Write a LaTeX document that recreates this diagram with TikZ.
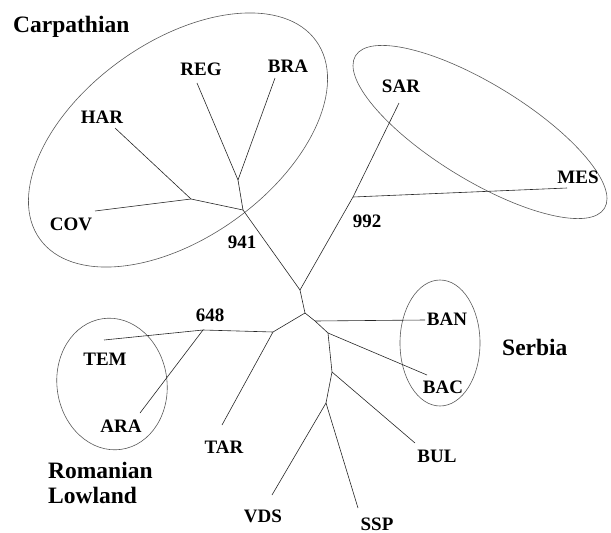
\documentclass[tikz,border=0pt]{standalone}
\usepackage{fontspec}
\setmainfont{Liberation Serif}
\usepackage{tikz}

\begin{document}
\begin{tikzpicture}[x=1pt,y=-1pt,
  branch/.style={line width=0.6pt, black!85},
  rim/.style={line width=0.6pt, black!65},
  taxon/.style={font=\fontsize{19}{19}\selectfont\bfseries, anchor=base, inner sep=0pt},
  region/.style={font=\fontsize{23.5}{23.5}\selectfont\bfseries, anchor=base west, inner sep=0pt}]
\useasboundingbox (0,0) rectangle (611,533);

% inner points of the tree
\coordinate (kink) at (191,199);
\coordinate (rb) at (238,180);
\coordinate (c941) at (243,210);
\coordinate (up) at (300,290);
\coordinate (c992) at (353,197);
\coordinate (ctr) at (305,313);
\coordinate (tj) at (273,332);
\coordinate (c648) at (203,330);
\coordinate (bj) at (315,321);
\coordinate (k1) at (328,333);
\coordinate (k2) at (332,372);
\coordinate (k3) at (326,403);

% leaf ends
\coordinate (har) at (115,128);
\coordinate (cov) at (95,211);
\coordinate (reg) at (197,83);
\coordinate (bra) at (275,78);
\coordinate (sar) at (399,103);
\coordinate (mes) at (567,188);
\coordinate (tem) at (104,340);
\coordinate (ara) at (140,413);
\coordinate (tar) at (222,425);
\coordinate (ban) at (425,320);
\coordinate (bac) at (427,375);
\coordinate (bul) at (415,443);
\coordinate (vds) at (272,495);
\coordinate (ssp) at (358,508);

% regions
\draw[rim, rotate around={35.6:(178,140)}] (178,140) ellipse (170pt and 98pt);
\draw[rim, rotate around={-31.5:(480,132)}] (480,132) ellipse (146pt and 48pt);
\draw[rim, rotate around={8:(112,384)}] (112,384) ellipse (55pt and 66pt);
\draw[rim] (440,343) ellipse (40pt and 63pt);

% branches
\draw[branch] (har) -- (kink);
\draw[branch] (cov) -- (kink) -- (c941);
\draw[branch] (reg) -- (rb);
\draw[branch] (bra) -- (rb) -- (c941);
\draw[branch] (c941) -- (up);
\draw[branch] (sar) -- (c992) -- (up);
\draw[branch] (mes) -- (c992);
\draw[branch] (up) -- (ctr);
\draw[branch] (ctr) -- (tj) -- (c648);
\draw[branch] (tem) -- (c648) -- (ara);
\draw[branch] (tj) -- (tar);
\draw[branch] (ctr) -- (bj) -- (k1);
\draw[branch] (bj) -- (ban);
\draw[branch] (k1) -- (bac);
\draw[branch] (k1) -- (k2) -- (k3);
\draw[branch] (k2) -- (bul);
\draw[branch] (k3) -- (vds);
\draw[branch] (k3) -- (ssp);

% labels
\node[taxon] (HAR) at (102,123) {HAR};
\node[taxon] (COV) at (71,230) {COV};
\node[taxon] (REG) at (201,75) {REG};
\node[taxon] (BRA) at (288,72) {BRA};
\node[taxon] (SAR) at (401,92) {SAR};
\node[taxon] (MES) at (578,183) {MES};
\node[taxon] (TEM) at (105,365) {TEM};
\node[taxon] (ARA) at (121,432) {ARA};
\node[taxon] (TAR) at (224,453) {TAR};
\node[taxon] (BAN) at (447,325) {BAN};
\node[taxon] (BAC) at (443,393) {BAC};
\node[taxon] (BUL) at (437,462) {BUL};
\node[taxon] (VDS) at (263,522) {VDS};
\node[taxon] (SSP) at (377,530) {SSP};
\node[taxon] (n941) at (242,248) {941};
\node[taxon] (n992) at (367,227) {992};
\node[taxon] (n648) at (210,321) {648};

\node[region] (carp) at (13,32) {Carpathian};
\node[region] (rom) at (48,478) {Romanian};
\node[region] (low) at (48,503) {Lowland};
\node[region] (serb) at (502,355) {Serbia};
\end{tikzpicture}
\end{document}
